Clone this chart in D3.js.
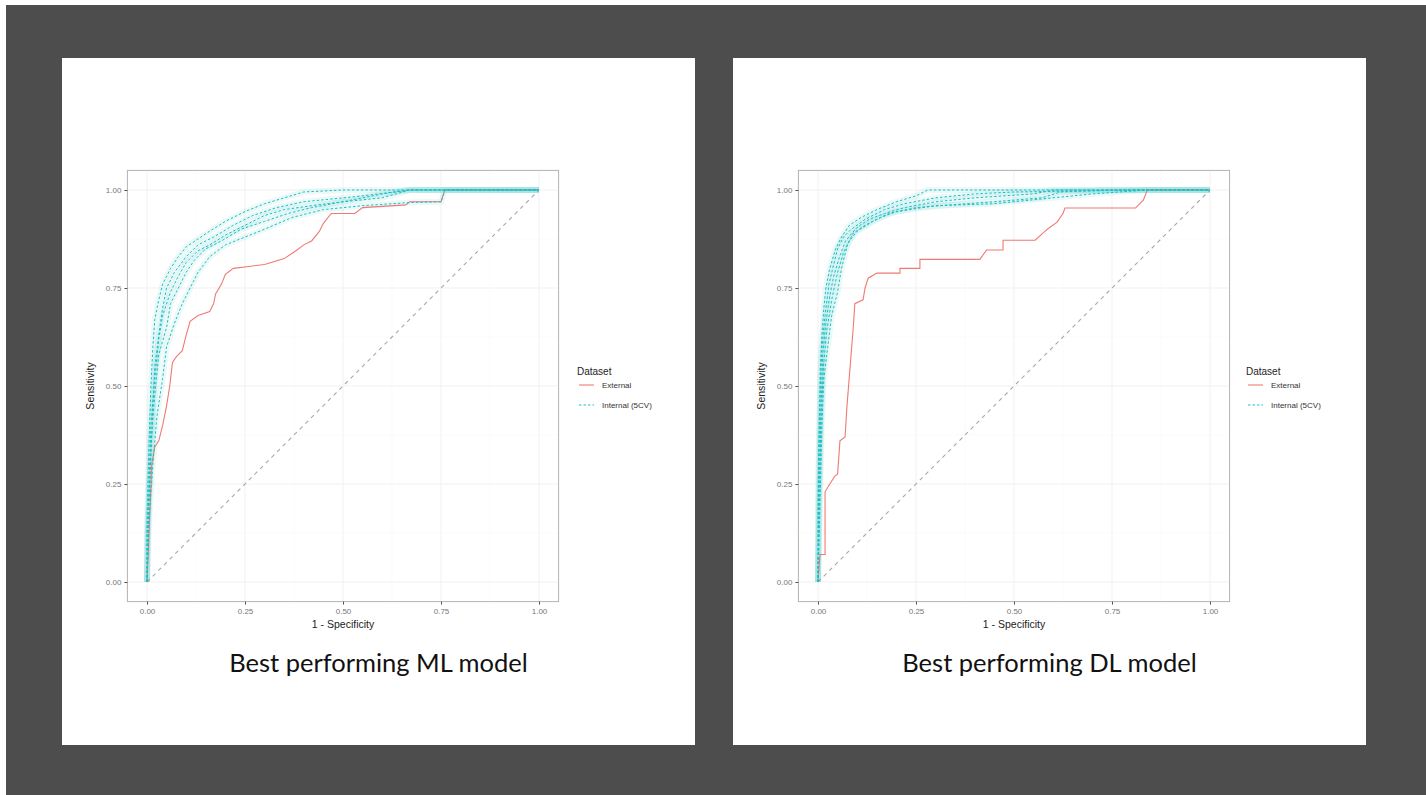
<!DOCTYPE html>
<html><head><meta charset="utf-8">
<script src="https://cdn.jsdelivr.net/npm/d3@7"></script>
<style>
html,body{margin:0;padding:0;background:#4d4d4d;}
svg{display:block;}
</style></head>
<body>
<svg id="chart" width="1426" height="795"></svg>
<script>
// ---------- DATA ----------
const xTicks = [0, 0.25, 0.5, 0.75, 1];
const yTicks = [0, 0.25, 0.5, 0.75, 1];
const tickLabels = ["0.00", "0.25", "0.50", "0.75", "1.00"];
const legendTitle = "Dataset";
const seriesNames = ["External", "Internal (5CV)"];
const captions = ["Best performing ML model", "Best performing DL model"];

// ML model: external validation ROC (fpr, tpr)
const mlExternal = [[0,0],[0.005,0.12],[0.008,0.2],[0.012,0.3],[0.02,0.345],[0.03,0.36],[0.04,0.4],[0.05,0.45],[0.058,0.5],[0.065,0.56],[0.075,0.575],[0.09,0.59],[0.1,0.63],[0.11,0.665],[0.13,0.68],[0.16,0.69],[0.17,0.71],[0.175,0.735],[0.19,0.76],[0.2,0.785],[0.22,0.8],[0.26,0.805],[0.3,0.81],[0.35,0.825],[0.38,0.845],[0.4,0.86],[0.42,0.87],[0.44,0.895],[0.45,0.915],[0.47,0.94],[0.53,0.94],[0.55,0.955],[0.66,0.962],[0.67,0.97],[0.75,0.97],[0.76,1.0],[1,1]];
// ML model: 5-fold internal cross-validation ROC curves
const mlFold1 = [[0,0],[0,0.15],[0.005,0.35],[0.01,0.5],[0.015,0.6],[0.02,0.67],[0.03,0.72],[0.04,0.76],[0.06,0.8],[0.08,0.83],[0.1,0.855],[0.13,0.875],[0.16,0.895],[0.2,0.92],[0.25,0.945],[0.3,0.965],[0.35,0.98],[0.4,0.995],[0.5,1.0],[1,1]];
const mlFold2 = [[0,0],[0,0.12],[0.01,0.32],[0.015,0.45],[0.02,0.55],[0.03,0.63],[0.04,0.7],[0.05,0.75],[0.07,0.79],[0.1,0.83],[0.13,0.86],[0.17,0.88],[0.22,0.91],[0.27,0.935],[0.33,0.955],[0.4,0.97],[0.45,0.975],[0.55,0.985],[0.67,1.0],[1,1]];
const mlFold3 = [[0,0],[0.005,0.2],[0.01,0.35],[0.02,0.48],[0.03,0.58],[0.05,0.65],[0.06,0.71],[0.08,0.75],[0.1,0.79],[0.12,0.82],[0.15,0.85],[0.19,0.87],[0.24,0.9],[0.3,0.92],[0.36,0.94],[0.42,0.955],[0.5,0.97],[0.6,0.98],[0.67,1.0],[1,1]];
const mlFold4 = [[0,0],[0.005,0.15],[0.015,0.3],[0.025,0.42],[0.04,0.52],[0.05,0.6],[0.07,0.66],[0.09,0.71],[0.11,0.75],[0.13,0.79],[0.16,0.83],[0.2,0.86],[0.25,0.88],[0.3,0.9],[0.37,0.93],[0.45,0.95],[0.55,0.96],[0.67,0.968],[0.75,0.97],[0.76,1.0],[1,1]];
const mlFold5 = [[0,0],[0.005,0.25],[0.01,0.4],[0.02,0.52],[0.03,0.62],[0.04,0.68],[0.06,0.74],[0.08,0.78],[0.1,0.815],[0.13,0.845],[0.16,0.86],[0.2,0.885],[0.25,0.91],[0.3,0.935],[0.35,0.95],[0.42,0.96],[0.5,0.97],[0.55,0.98],[0.6,0.99],[0.67,1.0],[1,1]];

// DL model: external validation ROC
const dlExternal = [[0,0],[0.005,0.07],[0.018,0.07],[0.018,0.23],[0.03,0.25],[0.043,0.27],[0.05,0.275],[0.056,0.36],[0.069,0.37],[0.074,0.45],[0.082,0.55],[0.09,0.65],[0.094,0.71],[0.115,0.72],[0.12,0.75],[0.128,0.775],[0.15,0.788],[0.209,0.788],[0.209,0.8],[0.26,0.8],[0.26,0.823],[0.413,0.823],[0.43,0.847],[0.472,0.847],[0.472,0.872],[0.554,0.872],[0.585,0.9],[0.61,0.918],[0.625,0.94],[0.63,0.954],[0.81,0.954],[0.83,0.974],[0.84,1.0],[1,1]];
// DL model: 5-fold internal cross-validation ROC curves
const dlFold1 = [[0,0],[0,0.2],[0.003,0.4],[0.006,0.55],[0.01,0.63],[0.015,0.7],[0.02,0.75],[0.03,0.8],[0.045,0.85],[0.06,0.88],[0.08,0.91],[0.11,0.93],[0.15,0.95],[0.2,0.97],[0.25,0.985],[0.28,1.0],[1,1]];
const dlFold2 = [[0,0],[0.003,0.25],[0.008,0.45],[0.012,0.58],[0.02,0.66],[0.03,0.73],[0.04,0.78],[0.055,0.83],[0.07,0.87],[0.1,0.905],[0.13,0.925],[0.17,0.94],[0.22,0.955],[0.3,0.97],[0.4,0.98],[0.55,0.99],[0.6,1.0],[1,1]];
const dlFold3 = [[0,0],[0.005,0.2],[0.01,0.4],[0.015,0.52],[0.025,0.6],[0.035,0.68],[0.05,0.74],[0.06,0.8],[0.075,0.86],[0.09,0.89],[0.12,0.91],[0.16,0.93],[0.2,0.945],[0.3,0.96],[0.45,0.965],[0.55,0.975],[0.7,0.99],[0.84,1.0],[1,1]];
const dlFold4 = [[0,0],[0.002,0.3],[0.006,0.5],[0.01,0.6],[0.018,0.68],[0.028,0.76],[0.04,0.81],[0.05,0.85],[0.065,0.88],[0.085,0.9],[0.12,0.925],[0.17,0.95],[0.22,0.965],[0.3,0.98],[0.4,0.99],[0.5,0.995],[0.84,1.0],[1,1]];
const dlFold5 = [[0,0],[0.004,0.22],[0.008,0.42],[0.014,0.55],[0.022,0.64],[0.035,0.72],[0.05,0.79],[0.065,0.84],[0.08,0.87],[0.1,0.895],[0.14,0.92],[0.18,0.94],[0.25,0.955],[0.31,0.96],[0.45,0.97],[0.57,0.98],[0.62,0.995],[0.75,1.0],[1,1]];

const diagonal = [[0,0],[1,1]];

// ---------- DRAW ----------
const svg = d3.select("#chart");
const W = 1426, H = 795;
svg.append("rect").attr("width", W).attr("height", H).attr("fill", "#4d4d4d");
// white page remnants at top / left edge
svg.append("rect").attr("x", 0).attr("y", 0).attr("width", W).attr("height", 5).attr("fill", "#ffffff");
svg.append("rect").attr("x", 0).attr("y", 0).attr("width", 6).attr("height", H).attr("fill", "#ffffff");

const panels = [
  {px: 62, py: 58, pw: 633, ph: 687, x0: 147, x1: 539, ext: mlExternal, folds: [mlFold1, mlFold2, mlFold3, mlFold4, mlFold5], caption: captions[0], legX: 577},
  {px: 733, py: 58, pw: 633, ph: 687, x0: 818, x1: 1210, ext: dlExternal, folds: [dlFold1, dlFold2, dlFold3, dlFold4, dlFold5], caption: captions[1], legX: 1246}
];

const red = "#ee7a74", teal = "#1cbfc2";
const FONT = "'Liberation Sans', Arial, sans-serif";

panels.forEach(p => {
  const g = svg.append("g");
  g.append("rect").attr("x", p.px).attr("y", p.py).attr("width", p.pw).attr("height", p.ph).attr("fill", "#ffffff");

  const x = d3.scaleLinear().domain([0, 1]).range([p.x0, p.x1]);
  const y = d3.scaleLinear().domain([0, 1]).range([582, 190]);
  const ex = (p.x1 - p.x0) * 0.05;
  const fx0 = p.x0 - ex, fx1 = p.x1 + ex, fy0 = 190 - 19.6, fy1 = 582 + 19.6;

  // grid
  const minor = [0.125, 0.375, 0.625, 0.875];
  minor.forEach(v => {
    g.append("line").attr("x1", x(v)).attr("x2", x(v)).attr("y1", fy0).attr("y2", fy1).attr("stroke", "#f7f7f7").attr("stroke-width", 0.5);
    g.append("line").attr("y1", y(v)).attr("y2", y(v)).attr("x1", fx0).attr("x2", fx1).attr("stroke", "#f7f7f7").attr("stroke-width", 0.5);
  });
  xTicks.forEach(v => {
    g.append("line").attr("x1", x(v)).attr("x2", x(v)).attr("y1", fy0).attr("y2", fy1).attr("stroke", "#f1f1f1").attr("stroke-width", 1);
  });
  yTicks.forEach(v => {
    g.append("line").attr("y1", y(v)).attr("y2", y(v)).attr("x1", fx0).attr("x2", fx1).attr("stroke", "#f1f1f1").attr("stroke-width", 1);
  });

  const line = d3.line().x(d => x(d[0])).y(d => y(d[1]));

  // diagonal reference
  g.append("path").attr("d", line(diagonal)).attr("fill", "none")
    .attr("stroke", "#a8a8a8").attr("stroke-width", 1.1).attr("stroke-dasharray", "4,4");

  // internal folds: soft halo + dashed line
  p.folds.forEach(f => {
    g.append("path").attr("d", line(f)).attr("fill", "none")
      .attr("stroke", teal).attr("stroke-opacity", 0.09).attr("stroke-width", 6).attr("stroke-linejoin", "round");
  });
  // external
  g.append("path").attr("d", line(p.ext)).attr("fill", "none")
    .attr("stroke", red).attr("stroke-width", 1.1);
  p.folds.forEach(f => {
    g.append("path").attr("d", line(f)).attr("fill", "none")
      .attr("stroke", teal).attr("stroke-width", 1).attr("stroke-dasharray", "2.5,2");
  });

  // panel border
  g.append("rect").attr("x", fx0).attr("y", fy0).attr("width", fx1 - fx0).attr("height", fy1 - fy0)
    .attr("fill", "none").attr("stroke", "#b3b3b3").attr("stroke-width", 1);

  // axes
  const xAxis = d3.axisBottom(x).tickValues(xTicks).tickFormat((d, i) => tickLabels[i]).tickSize(3).tickPadding(4);
  const yAxis = d3.axisLeft(y).tickValues(yTicks).tickFormat((d, i) => tickLabels[i]).tickSize(3).tickPadding(3);
  const gx = g.append("g").attr("transform", `translate(0,${fy1})`).call(xAxis);
  const gy = g.append("g").attr("transform", `translate(${fx0},0)`).call(yAxis);
  [gx, gy].forEach(a => {
    a.select(".domain").remove();
    a.selectAll(".tick line").attr("stroke", "#555");
    a.selectAll(".tick text").attr("fill", "#777").attr("font-family", FONT).attr("font-size", 8);
  });

  // axis titles
  g.append("text").attr("x", (p.x0 + p.x1) / 2).attr("y", 628).attr("text-anchor", "middle")
    .attr("font-family", FONT).attr("font-size", 10.5).attr("fill", "#222").text("1 - Specificity");
  g.append("text").attr("transform", `translate(${fx0 - 33},${y(0.5)}) rotate(-90)`).attr("text-anchor", "middle")
    .attr("font-family", FONT).attr("font-size", 10.5).attr("fill", "#222").text("Sensitivity");

  // legend
  const lg = g.append("g").attr("transform", `translate(${p.legX},0)`);
  lg.append("text").attr("x", 0).attr("y", 375).attr("font-family", FONT).attr("font-size", 10).attr("fill", "#222").text(legendTitle);
  lg.append("line").attr("x1", 2).attr("x2", 17).attr("y1", 385).attr("y2", 385).attr("stroke", red).attr("stroke-width", 1.1);
  lg.append("line").attr("x1", 2).attr("x2", 17).attr("y1", 405).attr("y2", 405).attr("stroke", teal).attr("stroke-width", 1).attr("stroke-dasharray", "2.5,2");
  lg.append("text").attr("x", 25).attr("y", 388).attr("font-family", FONT).attr("font-size", 8).attr("fill", "#333").text(seriesNames[0]);
  lg.append("text").attr("x", 25).attr("y", 408).attr("font-family", FONT).attr("font-size", 8).attr("fill", "#333").text(seriesNames[1]);

  // caption
  g.append("text").attr("x", p.px + p.pw / 2).attr("y", 672).attr("text-anchor", "middle")
    .attr("font-family", "Lato, 'Open Sans', sans-serif").attr("font-size", 25.5).attr("fill", "#111").text(p.caption);
});
</script>
</body></html>
